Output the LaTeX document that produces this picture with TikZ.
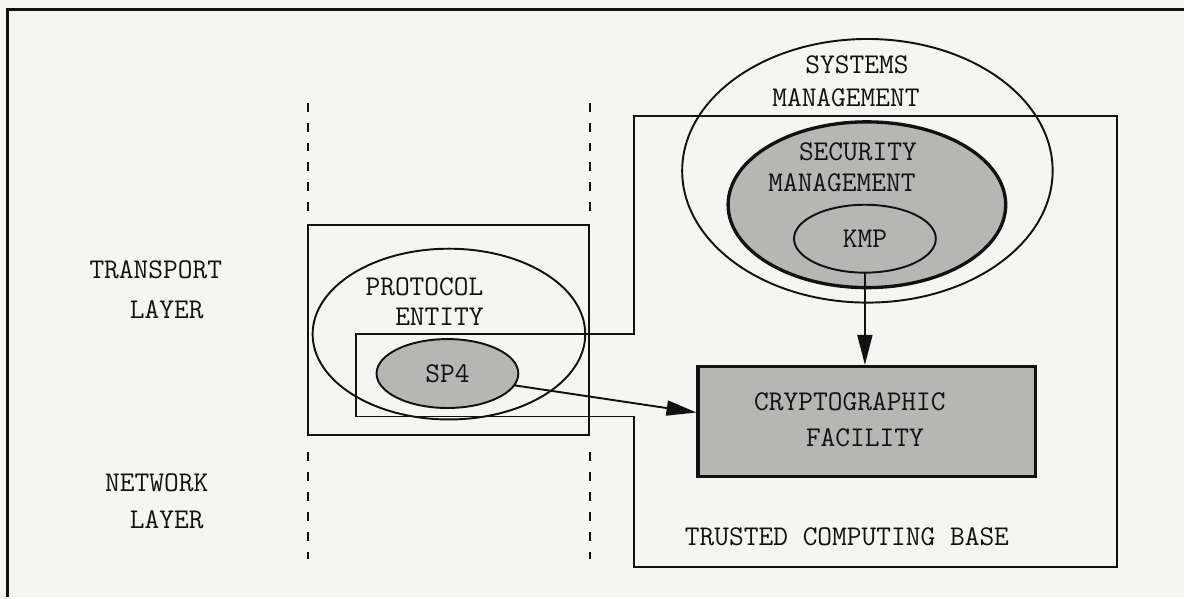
\documentclass[tikz,border=0pt]{standalone}
\usepackage{tikz}
\usetikzlibrary{arrows.meta,calc,positioning,shapes.geometric}
\definecolor{paper}{HTML}{F5F5F2}
\definecolor{ink}{HTML}{111111}
\definecolor{halftone}{HTML}{B6B6B4}

\begin{document}
\begin{tikzpicture}[x=0.02cm,y=-0.02cm,
  thinline/.style={ink,line width=1.1pt},
  thickline/.style={ink,line width=1.9pt},
  lbl/.style={font=\ttfamily\fontsize{16.3}{19}\selectfont,inner sep=0pt,text=ink},
  oval/.style={ellipse,draw=ink,line width=1.1pt,inner sep=0pt,outer sep=0pt},
  layerdash/.style={ink,line width=1.1pt,dash pattern=on 5.1pt off 6.2pt},
  bigtip/.style={-{Triangle[length=0.6cm,width=0.3cm]}}]
  \fill[paper] (0,0) rectangle (1185,598);
  \draw[ink,line width=1.7pt] (8,598) -- (8,10) -- (1185,10);
  % layer boundaries
  \foreach \xx in {308,591} {
    \draw[layerdash] (\xx,103) -- (\xx,213);
    \draw[layerdash] (\xx,453) -- (\xx,560);
  }
  \draw[thinline] (308,225) rectangle (590,436);
  % trusted computing base
  \draw[thinline] (635,116) -- (1118,116) -- (1118,568) -- (635,568) -- (635,417)
    -- (356,417) -- (356,334) -- (635,334) -- cycle;
  \node[oval,minimum width=5.46cm,minimum height=3.42cm] (pe) at (449.5,334.5) {};
  \node[oval,fill=halftone,minimum width=2.84cm,minimum height=1.38cm,lbl] (sp4) at (448,374) {SP4};
  \node[oval,minimum width=7.42cm,minimum height=5.28cm] (sysm) at (868.5,171) {};
  \node[oval,thickline,fill=halftone,minimum width=5.56cm,minimum height=3.32cm] (secm) at (868,205) {};
  \node[oval,fill=halftone,minimum width=2.84cm,minimum height=1.36cm,lbl] (kmp) at (866,239) {KMP};
  \node[draw,thickline,fill=halftone,inner sep=0pt,minimum width=6.76cm,minimum height=2.2cm] (crypto) at (868,422) {};
  \draw[thinline,bigtip] (kmp.south) -- (kmp.south |- crypto.north);
  \draw[thinline,bigtip] (sp4.-10) -- ([yshift=0.18cm]crypto.west);
  % labels
  \node[lbl] (transport) at (156,270) {TRANSPORT};
  \node[lbl] (tlayer) at (167,310) {LAYER};
  \node[lbl] (network) at (157,483) {NETWORK};
  \node[lbl] (nlayer) at (167,520) {LAYER};
  \node[lbl] (protocol) at (425,287) {PROTOCOL};
  \node[lbl] (entity) at (440,317) {ENTITY};
  \node[lbl] (systems) at (858,65) {SYSTEMS};
  \node[lbl] (sysmgmt) at (847,98) {MANAGEMENT};
  \node[lbl] (security) at (859,152) {SECURITY};
  \node[lbl] (secmgmt) at (843,183) {MANAGEMENT};
  \node[lbl] (cryptotxt) at (851,402) {CRYPTOGRAPHIC};
  \node[lbl] (facility) at (866,438) {FACILITY};
  \node[lbl] (tcb) at (848,537) {TRUSTED COMPUTING BASE};
\end{tikzpicture}
\end{document}
